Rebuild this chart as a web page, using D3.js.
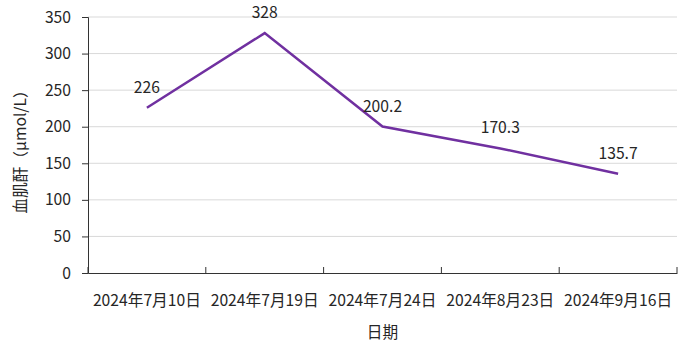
<!DOCTYPE html>
<html>
<head>
<meta charset="utf-8">
<script src="https://cdn.jsdelivr.net/npm/d3@7"></script>
<style>
  body { margin: 0; background: #fff; }
  text { font-family: "Noto Sans CJK SC", "Noto Sans", sans-serif; fill: #262626; }
</style>
</head>
<body>
<div class="chart"></div>
<script>
// Chart data
const dates = ["2024年7月10日", "2024年7月19日", "2024年7月24日", "2024年8月23日", "2024年9月16日"];
const values = [226, 328, 200.2, 170.3, 135.7];
const yTicks = [0, 50, 100, 150, 200, 250, 300, 350];

const width = 693;
const height = 353;
const margin = { top: 17, right: 16, bottom: 80, left: 88 };
const fontSize = "15.7px";

const svg = d3.select(".chart")
    .append("svg")
    .attr("width", width)
    .attr("height", height);

const x = d3.scaleBand()
    .domain(dates)
    .range([margin.left, width - margin.right]);

const y = d3.scaleLinear()
    .domain([0, 350])
    .range([height - margin.bottom, margin.top]);

// Gridlines
svg.append("g")
    .selectAll("line")
    .data(yTicks.filter(d => d > 0))
    .enter()
    .append("line")
    .attr("x1", margin.left)
    .attr("x2", width - margin.right)
    .attr("y1", d => y(d))
    .attr("y2", d => y(d))
    .attr("stroke", "#d9d9d9")
    .attr("stroke-width", 1);

// Y axis
const yAxis = svg.append("g")
    .attr("transform", `translate(${margin.left},0)`)
    .call(d3.axisLeft(y).tickValues(yTicks).tickSize(6).tickPadding(11));
yAxis.selectAll("text").style("font-size", fontSize).attr("fill", "#262626");
yAxis.selectAll("line, path").attr("stroke", "#333");

// X axis with ticks on band boundaries
const xAxis = svg.append("g")
    .attr("transform", `translate(0,${y(0)})`)
    .call(d3.axisBottom(x).tickSize(0).tickPadding(22));
xAxis.selectAll("text").style("font-size", fontSize).attr("fill", "#262626");
xAxis.select("path").attr("stroke", "#333");

const boundaries = dates.map(d => x(d)).concat([x(dates[dates.length - 1]) + x.bandwidth()]);
xAxis.selectAll(".bound")
    .data(boundaries)
    .enter()
    .append("line")
    .attr("class", "bound")
    .attr("x1", d => d)
    .attr("x2", d => d)
    .attr("y1", 0)
    .attr("y2", -6)
    .attr("stroke", "#333");

// Line
const line = d3.line()
    .x((d, i) => x(dates[i]) + x.bandwidth() / 2)
    .y(d => y(d));

svg.append("path")
    .datum(values)
    .attr("d", line)
    .attr("fill", "none")
    .attr("stroke", "#7030a0")
    .attr("stroke-width", 2.5);

// Data labels
svg.append("g")
    .selectAll("text")
    .data(values)
    .enter()
    .append("text")
    .attr("x", (d, i) => x(dates[i]) + x.bandwidth() / 2)
    .attr("y", d => y(d) - 15)
    .attr("text-anchor", "middle")
    .style("font-size", fontSize)
    .text(d => d);

// Axis titles
svg.append("text")
    .attr("transform", `translate(26,${(margin.top + y(0)) / 2 + 3}) rotate(-90)`)
    .attr("text-anchor", "middle")
    .style("font-size", fontSize)
    .text("血肌酐（μmol/L）");

svg.append("text")
    .attr("x", (margin.left + width - margin.right) / 2)
    .attr("y", 338)
    .attr("text-anchor", "middle")
    .style("font-size", fontSize)
    .text("日期");
</script>
</body>
</html>
